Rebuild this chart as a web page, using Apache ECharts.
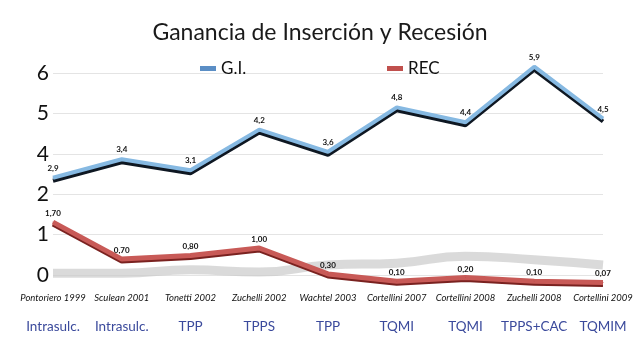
<!DOCTYPE html>
<html>
<head>
<meta charset="utf-8">
<script src="https://cdn.jsdelivr.net/npm/echarts@6/dist/echarts.min.js"></script>
<style>
  html, body { margin: 0; padding: 0; background: #fff; }
  #chart { width: 640px; height: 352px; }
</style>
</head>
<body>
<div id="chart"></div>
<script>
const authors = ['Pontoriero 1999', 'Sculean 2001', 'Tonetti 2002', 'Zuchelli 2002', 'Wachtel 2003',
  'Cortellini 2007', 'Cortellini 2008', 'Zuchelli 2008', 'Cortellini 2009']
const techniques = ['Intrasulc.', 'Intrasulc.', 'TPP', 'TPPS', 'TPP', 'TQMI', 'TQMI', 'TPPS+CAC', 'TQMIM']
const giValues = [2.9, 3.4, 3.1, 4.2, 3.6, 4.8, 4.4, 5.9, 4.5]
const recValues = [1.70, 0.70, 0.80, 1.00, 0.30, 0.10, 0.20, 0.10, 0.07]
// grey floor shadow seen under the lines
const floorShadow = [0.32, 0.32, 0.41, 0.35, 0.54, 0.59, 0.78, 0.68, 0.54]
// tick labels as printed on the slide (the "3" is missing there)
const tickLabels = ['0', '1', '2', '4', '5', '6']

const chart = echarts.init(document.getElementById('chart'))

function comma(v, digits) {
  return v.toFixed(digits).replace('.', ',')
}

const option = {
  animation: false,
  textStyle: { fontFamily: 'Lato' },
  title: {
    text: 'Ganancia de Inserción y Recesión',
    left: 'center',
    top: 16,
    textStyle: { fontFamily: 'Lato', fontSize: 23, fontWeight: 'normal', color: '#1a1a1a' }
  },
  legend: [
    {
      left: 195, top: 55, icon: 'rect', itemWidth: 16, itemHeight: 5,
      textStyle: { fontSize: 17, color: '#111' },
      data: [{ name: 'G.I.', itemStyle: { color: '#5b8ec5' } }]
    },
    {
      left: 382, top: 55, icon: 'rect', itemWidth: 16, itemHeight: 5,
      textStyle: { fontSize: 17, color: '#111' },
      data: [{ name: 'REC', itemStyle: { color: '#c0504d' } }]
    }
  ],
  grid: { left: 53, right: 37, top: 73, bottom: 77 },
  xAxis: {
    type: 'category',
    data: authors,
    boundaryGap: false,
    axisLine: { show: false },
    axisTick: { show: false },
    axisLabel: {
      margin: 13,
      interval: 0,
      formatter: (v, i) => '{a|' + v + '}\n{b|' + techniques[i] + '}',
      rich: {
        a: { fontStyle: 'italic', fontSize: 9.5, color: '#111', lineHeight: 20 },
        b: { fontSize: 13.5, color: '#3b4a9c', lineHeight: 38 }
      }
    }
  },
  yAxis: [
    {
      type: 'value',
      min: 0,
      max: 5,
      interval: 1,
      axisLine: { show: false },
      axisTick: { show: false },
      axisLabel: {
        margin: 4,
        fontSize: 21,
        color: '#111',
        formatter: v => tickLabels[v]
      },
      splitLine: { lineStyle: { color: '#e4e4e4', width: 1 } }
    },
    {
      // data scale: the slide's zero sits a little below the "0" line
      type: 'value',
      min: 0.27,
      max: 5.73,
      show: false,
      splitLine: { show: false }
    }
  ],
  series: [
    {
      name: 'floor',
      type: 'line',
      yAxisIndex: 1,
      data: floorShadow,
      smooth: true,
      symbol: 'none',
      silent: true,
      clip: false,
      z: 1,
      lineStyle: { color: '#cacaca', width: 9, opacity: 0.7 }
    },
    {
      name: 'REC',
      type: 'line',
      yAxisIndex: 1,
      data: recValues,
      clip: false,
      symbol: 'circle',
      symbolSize: 1,
      z: 3,
      itemStyle: { color: '#c0504d' },
      lineStyle: {
        color: '#c85a57', width: 5,
        shadowColor: '#7a2220', shadowOffsetY: 2, shadowBlur: 0
      },
      label: {
        show: true,
        position: 'top',
        distance: 4,
        fontSize: 8,
        fontWeight: 'bold',
        color: '#111',
        formatter: p => comma(p.value, 2)
      }
    },
    {
      name: 'G.I.',
      type: 'line',
      yAxisIndex: 1,
      data: giValues,
      clip: false,
      symbol: 'circle',
      symbolSize: 1,
      z: 4,
      itemStyle: { color: '#82b5df' },
      lineStyle: {
        color: '#86b9e2', width: 4,
        shadowColor: '#0e1722', shadowOffsetY: 3, shadowBlur: 0
      },
      label: {
        show: true,
        position: 'top',
        distance: 5,
        fontSize: 8,
        fontWeight: 'bold',
        color: '#111',
        formatter: p => comma(p.value, 1)
      }
    }
  ]
}

chart.setOption(option)
</script>
</body>
</html>
